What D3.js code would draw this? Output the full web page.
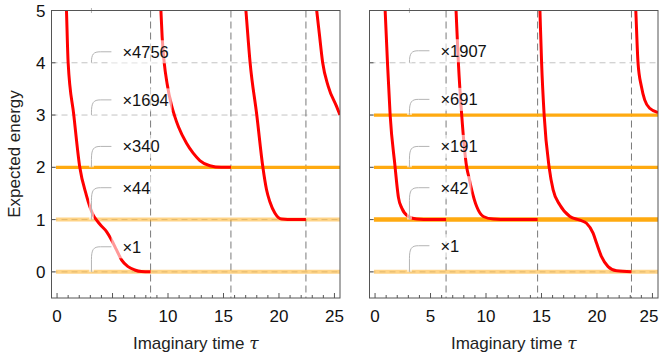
<!DOCTYPE html>
<html><head><meta charset="utf-8">
<script src="https://cdn.jsdelivr.net/npm/d3@7"></script>
<style>body{margin:0;background:#fff}svg{display:block;font-family:"Liberation Sans",Arial,sans-serif}</style>
</head><body><svg id="c" width="659" height="362"></svg>
<script>
// ---------------- data ----------------
const tauTicks = [0, 5, 10, 15, 20, 25];
const tauMinorTicks = [1,2,3,4,6,7,8,9,11,12,13,14,16,17,18,19,21,22,23,24];
const energyTicks = [0, 1, 2, 3, 4, 5];
const gridEnergies = [0, 1, 2, 3, 4];

// left panel
const leftResets = [8.43, 15.67, 22.43];
const leftPaleLevels = [0, 1];
const leftStrongLevels = [2];
const leftCurveA = [[0.76,5.6],[0.85,5],[1.0,4],[1.51,3],[2.05,2],[2.64,1.47],[2.95,1.25],[3.25,1.09],[3.6,0.98],[3.9,0.9],[4.46,0.77],[4.91,0.61],[5.36,0.42],[5.81,0.23],[6.4,0.1],[7.0,0.036],[7.6,0.006],[8.43,0]];
const leftCurveB = [[9.25,5.6],[9.36,5],[9.47,4.5],[9.66,4.0],[9.92,3.6],[10.3,3.2],[10.6,2.98],[10.95,2.77],[11.67,2.46],[12.27,2.27],[12.87,2.13],[13.77,2.03],[14.8,2.0],[15.67,2.0]];
const leftCurveC = [[16.79,5.6],[17.02,5],[17.4,4],[18.0,3],[18.55,2],[18.88,1.57],[19.18,1.34],[19.64,1.12],[20.24,1.01],[21.3,1.0],[22.43,1.0]];
const leftCurveD = [[23.1,5.6],[23.4,5],[23.63,4.57],[23.94,4],[24.44,3.55],[25.2,3.16],[25.5,3.0]];
const leftCounts = ["×4756", "×1694", "×340", "×44", "×1"];
const calloutLevels = [4, 3, 2, 1, 0];

// right panel
const rightResets = [6.4, 14.65, 23.11];
const rightPaleLevels = [0];
const rightStrongLevels = [1, 2, 3];
const rightCurveA = [[0.79,5.6],[0.91,5],[1.12,4],[1.36,3],[1.81,2],[1.95,1.7],[2.11,1.42],[2.41,1.22],[3.01,1.06],[3.76,1.01],[5.0,1.0],[6.4,1.0]];
const rightCurveB = [[7.17,5.6],[7.3,5],[7.51,4],[7.81,3],[8.26,2],[8.45,1.82],[8.71,1.57],[9.16,1.25],[9.76,1.06],[10.66,1.01],[12.0,1.0],[14.65,1.0]];
const rightCurveC = [[14.77,5.6],[14.86,5],[15.01,4],[15.24,3],[15.69,2],[16.05,1.57],[16.66,1.28],[17.56,1.06],[18.46,0.99],[19.06,0.93],[19.65,0.74],[19.96,0.55],[20.41,0.29],[21.0,0.1],[21.76,0.02],[23.11,0]];
const rightCurveD = [[23.38,5.6],[23.5,5],[23.7,4],[24.0,3.55],[24.3,3.29],[24.75,3.13],[25.5,3.05]];
const rightCounts = ["×1907", "×691", "×191", "×42", "×1"];

// ---------------- layout ----------------
const plotTop = 10.5, plotBottom = 298;
const calloutTau = 3.1, calloutEndTau = 4.9;
const leftCalloutE = [4.21, 3.29, 2.40, 1.61, 0.48];
const rightCalloutE = [4.23, 3.30, 2.40, 1.61, 0.50];
const orange = "#ffaa10";
const svg = d3.select("#c");

function panel(id, x0, x1, cfg) {
  const x = d3.scaleLinear().domain([-0.5, 25.5]).range([x0, x1]);
  const y = d3.scaleLinear().domain([-0.5, 5]).range([plotBottom, plotTop]);
  const g = svg.append("g");
  g.append("clipPath").attr("id", id).append("rect")
    .attr("x", x0).attr("y", plotTop).attr("width", x1 - x0).attr("height", plotBottom - plotTop);
  const plot = g.append("g").attr("clip-path", `url(#${id})`);

  plot.selectAll(".hg").data(gridEnergies).join("line")
    .attr("x1", x0).attr("x2", x1).attr("y1", d => y(d)).attr("y2", d => y(d))
    .attr("stroke", "#c4c4c4").attr("stroke-width", 1).attr("stroke-dasharray", "6,4");
  plot.selectAll(".vg").data(cfg.resets).join("line")
    .attr("x1", d => x(d)).attr("x2", d => x(d)).attr("y1", plotTop).attr("y2", plotBottom)
    .attr("stroke", "#7a7a7a").attr("stroke-width", 1).attr("stroke-dasharray", "7,4");
  plot.selectAll(".pl").data(cfg.pale).join("line")
    .attr("x1", x(-0.1)).attr("x2", x1).attr("y1", d => y(d)).attr("y2", d => y(d))
    .attr("stroke", orange).attr("stroke-opacity", 0.5).attr("stroke-width", 4);
  plot.selectAll(".sl").data(cfg.strong).join("line")
    .attr("x1", x(-0.1)).attr("x2", x1).attr("y1", d => y(d)).attr("y2", d => y(d))
    .attr("stroke", orange).attr("stroke-width", d => d === 1 ? 4.5 : 3.2);
  const line = d3.line().x(d => x(d[0])).y(d => y(d[1])).curve(d3.curveMonotoneX);
  plot.selectAll(".rc").data(cfg.curves).join("path")
    .attr("d", line).attr("fill", "none").attr("stroke", "#ff0000")
    .attr("stroke-width", 3).attr("stroke-linejoin", "round");

  cfg.counts.forEach((txt, i) => {
    const lvl = calloutLevels[i];
    const ax = x(calloutTau), ay = y(lvl);
    const ex = x(calloutEndTau), ey = y(cfg.calloutE[i]);
    const tx = ex + 11;
    const t = plot.append("text").attr("x", tx).attr("y", ey).attr("dy", "0.36em")
      .attr("font-size", 16.5).attr("fill", "#111").text(txt);
    const tw = t.node().getComputedTextLength();
    t.remove();
    plot.append("rect").attr("x", ex).attr("y", ey - 11.5).attr("width", tx + tw + 3 - ex).attr("height", 23)
      .attr("fill", "#fff").attr("fill-opacity", 0.6);
    const k = Math.min(13, ay - ey);
    const p = `M${ax},${ay}L${ax},${ey + k}C${ax},${ey + k * 0.2} ${ax + 2},${ey} ${ax + 9},${ey}L${ex},${ey}`;
    plot.append("path").attr("d", p).attr("fill", "none").attr("stroke", "#fff")
      .attr("stroke-opacity", 0.6).attr("stroke-width", 5);
    plot.append("path").attr("d", p).attr("fill", "none").attr("stroke", "#b4b4b4").attr("stroke-width", 1);
    plot.append("text").attr("x", tx).attr("y", ey).attr("dy", "0.36em")
      .attr("font-size", 16.5).attr("fill", "#111").text(txt);
  });
  g.append("line").attr("x1", x(calloutTau)).attr("x2", x(calloutTau)).attr("y1", plotTop - 2.5).attr("y2", plotTop + 2.5)
    .attr("stroke", "#b4b4b4").attr("stroke-width", 1);

  g.append("rect").attr("x", x0).attr("y", plotTop).attr("width", x1 - x0).attr("height", plotBottom - plotTop)
    .attr("fill", "none").attr("stroke", "#555").attr("stroke-width", 1);
  g.selectAll(".xt").data(tauTicks).join("line")
    .attr("x1", d => x(d)).attr("x2", d => x(d)).attr("y1", plotBottom).attr("y2", plotBottom - 5)
    .attr("stroke", "#555");
  g.selectAll(".xm").data(tauMinorTicks).join("line")
    .attr("x1", d => x(d)).attr("x2", d => x(d)).attr("y1", plotBottom).attr("y2", plotBottom - 3)
    .attr("stroke", "#555");
  g.selectAll(".xl").data(tauTicks).join("text")
    .attr("x", d => Math.min(x(d), W - 10)).attr("y", plotBottom + 23.5).attr("text-anchor", "middle")
    .attr("font-size", 17).attr("fill", "#111").text(d => d);
  g.selectAll(".yt").data(energyTicks).join("line")
    .attr("x1", x0).attr("x2", x0 + 4).attr("y1", d => y(d)).attr("y2", d => y(d))
    .attr("stroke", "#555");
  if (cfg.yLabels) {
    g.selectAll(".yl").data(energyTicks).join("text")
      .attr("x", x0 - 6).attr("y", d => y(d)).attr("dy", "0.36em").attr("text-anchor", "end")
      .attr("font-size", 17).attr("fill", "#111").text(d => d);
  }
  const xt = g.append("text").attr("x", (x0 + x1) / 2).attr("y", 349).attr("text-anchor", "middle")
    .attr("font-size", 17).attr("fill", "#222");
  xt.append("tspan").text("Imaginary time ");
  xt.append("tspan").attr("font-style", "italic").attr("font-family", "DejaVu Serif, serif").text("τ");
}
const W = 659;

panel("cl", 51.5, 340, {
  resets: leftResets, pale: leftPaleLevels, strong: leftStrongLevels,
  curves: [leftCurveA, leftCurveB, leftCurveC, leftCurveD],
  counts: leftCounts, calloutE: leftCalloutE, yLabels: true
});
panel("cr", 369.5, 658, {
  resets: rightResets, pale: rightPaleLevels, strong: rightStrongLevels,
  curves: [rightCurveA, rightCurveB, rightCurveC, rightCurveD],
  counts: rightCounts, calloutE: rightCalloutE, yLabels: false
});

svg.append("text").attr("transform", `translate(20,154) rotate(-90)`)
  .attr("text-anchor", "middle").attr("font-size", 17).attr("fill", "#222").text("Expected energy");
</script></body></html>
